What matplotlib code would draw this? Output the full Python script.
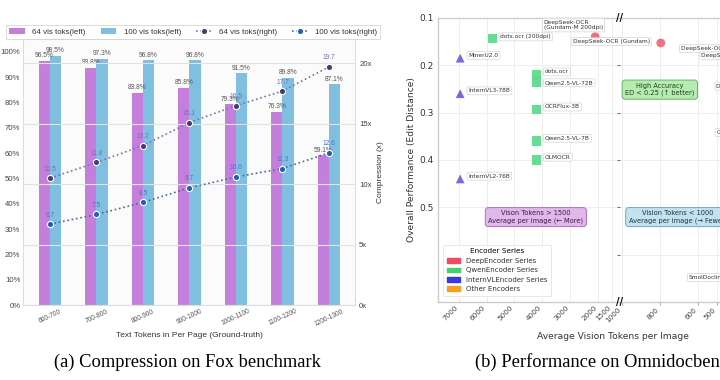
import matplotlib
matplotlib.use("Agg")
import matplotlib.pyplot as plt
import numpy as np
from matplotlib.patches import Patch
from matplotlib.lines import Line2D

# ---------------- data: (a) Fox benchmark ----------------
categories = ['600-700', '700-800', '800-900', '900-1000', '1000-1100', '1100-1200', '1200-1300']
prec_64 = [96.5, 93.8, 83.8, 85.8, 79.3, 76.3, 59.1]
prec_100 = [98.5, 97.3, 96.8, 96.8, 91.5, 89.8, 87.1]
comp_64 = [10.5, 11.8, 13.2, 15.1, 16.5, 17.7, 19.7]
comp_100 = [6.7, 7.5, 8.5, 9.7, 10.6, 11.3, 12.6]
left_yticks = [0, 10, 20, 30, 40, 50, 60, 70, 80, 90, 100]
right_yticks = [0, 5, 10, 15, 20]

# ---------------- data: (b) Omnidocbench ----------------
models = ['dots.ocr (200dpi)', 'DeepSeek-OCR\n(Gundam-M 200dpi)', 'DeepSeek-OCR (Gundam)',
          'MinerU2.0', 'InternVL3-78B', 'InternVL2-76B',
          'dots.ocr', 'Qwen2.5-VL-72B', 'OCRFlux-3B', 'Qwen2.5-VL-7B', 'OLMOCR',
          'DeepSeek-OCR (Large)', 'DeepSeek-OCR (Base)', 'DeepSeek-OCR (Small)',
          'GOT-OCR2.0', 'SmolDocling']
vision_tokens = [5800, 2100, 795,
                 6950, 6950, 6950,
                 4200, 4200, 4200, 4200, 4200,
                 270, 174, 84,
                 250, 395]
edit_distance = [0.143, 0.14, 0.153,
                 0.185, 0.26, 0.44,
                 0.22, 0.237, 0.294, 0.36, 0.40,
                 0.168, 0.183, 0.247,
                 0.345, 0.651]
encoder = ['Qwen', 'Deep', 'Deep',
           'Intern', 'Intern', 'Intern',
           'Qwen', 'Qwen', 'Qwen', 'Qwen', 'Qwen',
           'Deep', 'Deep', 'Deep',
           'Other', 'Other']
series_names = ['DeepEncoder Series', 'QwenEncoder Series', 'InternVLEncoder Series', 'Other Encoders']
left_xticks = [7000, 6000, 5000, 4000, 3000, 2000, 1500]
right_xticks = [1000, 800, 600, 500, 400, 300, 200, 100]
ed_ticks = [0.1, 0.2, 0.3, 0.4, 0.5]

# ---------------- styles ----------------
c64 = '#c47fdc'
c100 = '#80bfdf'
m64 = '#4b3a70'
m100 = '#1f5fb8'
sans_a = 'Liberation Sans'

fig = plt.figure(figsize=(7.2, 3.8), dpi=100)

# ======== (a) ========
ax = fig.add_axes([0.032, 0.197, 0.461, 0.700])
ax.set_facecolor('#fbfbfb')
x = np.arange(len(categories))
w = 0.24
b1 = ax.bar(x - w / 2, prec_64, w, color=c64, zorder=2, label='64 vis toks(left)')
b2 = ax.bar(x + w / 2, prec_100, w, color=c100, zorder=2, label='100 vis toks(left)')
for rect, v in zip(b1, prec_64):
    ax.annotate(f'{v}%', (rect.get_x() + rect.get_width() / 2, v), xytext=(0, 1),
                textcoords='offset points', ha='center', va='bottom', fontsize=4.8,
                color='#555555', family=sans_a, zorder=5)
for rect, v in zip(b2, prec_100):
    ax.annotate(f'{v}%', (rect.get_x() + rect.get_width() / 2, v), xytext=(0, 1),
                textcoords='offset points', ha='center', va='bottom', fontsize=4.8,
                color='#555555', family=sans_a, zorder=5)
ax.set_ylim(0, 105)
ax.set_xlim(-0.58, 6.56)
ax.set_yticks(left_yticks)
ax.set_yticklabels([f'{t}%' for t in left_yticks], fontsize=5.6, color='#444444', family=sans_a)
ax.set_xticks(x)
ax.set_xticklabels(categories, rotation=25, fontsize=4.8, color='#555555', family=sans_a)
ax.tick_params(length=0, pad=2)
ax.set_xlabel('Text Tokens in Per Page (Ground-truth)', fontsize=6, color='#333333',
              family=sans_a, labelpad=3)
for s in ax.spines.values():
    s.set_color('#dddddd')
    s.set_linewidth(0.8)

ax2 = ax.twinx()
ax2.set_ylim(0, 22)
ax2.set_yticks(right_yticks)
ax2.set_yticklabels([f'{t}x' for t in right_yticks], fontsize=5.6, color='#444444', family=sans_a)
ax2.tick_params(length=0, pad=3)
ax2.yaxis.grid(True, color='#e2e2e2', linewidth=0.8, zorder=0)
ax2.set_axisbelow(True)
for s in ax2.spines.values():
    s.set_visible(False)
ax2.set_ylabel('Compression (x)', fontsize=6, color='#333333', family=sans_a, labelpad=4)
l1, = ax2.plot(x, comp_64, linestyle=':', color='#7a70aa', linewidth=1.2, marker='o',
               markersize=4.5, markerfacecolor=m64, markeredgecolor='white',
               markeredgewidth=0.8, zorder=4, label='64 vis toks(right)')
l2, = ax2.plot(x, comp_100, linestyle=':', color='#4a6a98', linewidth=1.2, marker='o',
               markersize=4.5, markerfacecolor=m100, markeredgecolor='white',
               markeredgewidth=0.8, zorder=4, label='100 vis toks(right)')
for xi, v in zip(x, comp_64):
    ax2.annotate(f'{v}', (xi, v), xytext=(0, 4), textcoords='offset points', ha='center',
                 va='bottom', fontsize=4.8, color='#7a6cc0', family=sans_a, zorder=5)
for xi, v in zip(x, comp_100):
    ax2.annotate(f'{v}', (xi, v), xytext=(0, 4), textcoords='offset points', ha='center',
                 va='bottom', fontsize=4.8, color='#4876d0', family=sans_a, zorder=5)

leg = fig.legend(handles=[b1, b2, l1, l2], loc='upper left', bbox_to_anchor=(0.003, 0.945),
                 ncol=4, frameon=True, handlelength=2.0, handletextpad=0.9,
                 columnspacing=1.9, borderpad=0.4, prop={'family': sans_a, 'size': 5.7})
leg.get_frame().set_edgecolor('#cccccc')
leg.get_frame().set_linewidth(0.6)
leg.get_frame().set_boxstyle('square', pad=0)
for t in leg.get_texts():
    t.set_color('#333333')

fig.text(0.261, 0.047, '(a) Compression on Fox benchmark', ha='center', va='center',
         fontsize=13.3, family='Liberation Serif', color='black')

# ======== (b) ========
colors = {'Deep': '#ef4a60', 'Qwen': '#3dd46c', 'Intern': '#3a3ad8', 'Other': '#f5a020'}
mcolors = {'Deep': '#f2576c', 'Qwen': '#4cd882', 'Intern': '#5a52e0', 'Other': '#f5a020'}
markers = {'Deep': 'o', 'Qwen': 's', 'Intern': '^', 'Other': 'D'}
sizes = {'Deep': 40, 'Qwen': 45, 'Intern': 40, 'Other': 35}

bL = fig.add_axes([0.608, 0.205, 0.253, 0.748])
bR = fig.add_axes([0.861, 0.205, 0.25, 0.748])
bL.set_xlim(7755, 1209)
bR.set_xlim(1010, 63)
for a in (bL, bR):
    a.set_ylim(0.70, 0.1)
    a.grid(True, color='#ebebeb', linewidth=0.6)
    a.set_axisbelow(True)
    a.set_facecolor('white')
    for s in a.spines.values():
        s.set_color('#cccccc')
        s.set_linewidth(1.0)
bL.spines['right'].set_visible(False)
bR.spines['left'].set_visible(False)
bL.set_yticks(ed_ticks)
bL.set_yticklabels([f'{t}' for t in ed_ticks], fontsize=6.5, color='#333333')
bL.tick_params(axis='y', length=0, pad=3)
bR.set_yticks([0.2, 0.3, 0.4, 0.5, 0.6])
bR.tick_params(axis='y', length=2, width=0.8, color='#777777', labelleft=False, direction='out')
bL.set_xticks(left_xticks)
bL.set_xticklabels([str(t) for t in left_xticks], rotation=45, ha='right', fontsize=5.2,
                   color='#444444')
bR.set_xticks(right_xticks)
bR.set_xticklabels([str(t) for t in right_xticks], rotation=45, ha='right', fontsize=5.2,
                   color='#444444')
bL.tick_params(axis='x', length=0, pad=2)
bR.tick_params(axis='x', length=2, width=0.6, color='#999999', pad=1)
bL.set_ylabel('Overall Performance (Edit Distance)', fontsize=6.6, color='#333333', labelpad=2)
bL.set_xlabel('Average Vision Tokens per Image', fontsize=6.6, color='#333333')
bL.xaxis.set_label_coords(0.96, -0.105)

label_style = {
    'dots.ocr (200dpi)': ((6, 1), 'left'),
    'DeepSeek-OCR\n(Gundam-M 200dpi)': ((-37, 8.5), 'left'),
    'DeepSeek-OCR (Gundam)': ((-8, 1), 'right'),
    'MinerU2.0': ((6, 2), 'left'),
    'InternVL3-78B': ((6, 2), 'left'),
    'InternVL2-76B': ((6, 2), 'left'),
    'dots.ocr': ((6, 2), 'left'),
    'Qwen2.5-VL-72B': ((6, 0), 'left'),
    'OCRFlux-3B': ((6, 2), 'left'),
    'Qwen2.5-VL-7B': ((6, 2), 'left'),
    'OLMOCR': ((6, 2), 'left'),
}
for name, t, e, enc in zip(models, vision_tokens, edit_distance, encoder):
    a = bL if t >= 1209 else bR
    a.scatter([t], [e], s=sizes[enc], marker=markers[enc], color=mcolors[enc], alpha=0.85,
              edgecolor='none', zorder=3)
    off, ha = label_style.get(name, ((-8, 1), 'right'))
    a.annotate(name, (t, e), xytext=off, textcoords='offset points', ha=ha, va='center',
               fontsize=4.2, color='#333333', zorder=6, annotation_clip=False,
               bbox=dict(boxstyle='round,pad=0.25', fc='white', ec='#cccccc', lw=0.5, alpha=0.85))

bR.text(800, 0.251, 'High Accuracy\nED < 0.25 (↑ better)', ha='center', va='center',
        fontsize=4.8, color='#1f3f1f', zorder=7, clip_on=False,
        bbox=dict(boxstyle='round,pad=0.45', fc='#b7ebb0', ec='#5cb85c', lw=0.7))
bL.text(4230, 0.52, 'Vison Tokens > 1500\nAverage per image (← More)', ha='center', va='center',
        fontsize=4.8, color='#3a1f40', zorder=7, clip_on=False,
        bbox=dict(boxstyle='round,pad=0.45', fc='#e2b7ea', ec='#b070c0', lw=0.7))
bR.text(705, 0.52, 'Vision Tokens < 1000\nAverage per image (→ Fewer)', ha='center', va='center',
        fontsize=4.8, color='#1f3040', zorder=7, clip_on=False,
        bbox=dict(boxstyle='round,pad=0.45', fc='#c3e2ef', ec='#6aa8c8', lw=0.7))

handles = [Patch(color=colors[k]) for k in ['Deep', 'Qwen', 'Intern', 'Other']]
lg = bL.legend(handles, series_names, title='Encoder Series', loc='lower left',
               bbox_to_anchor=(0.01, 0.01), fontsize=5.0, title_fontsize=5.2,
               frameon=True, handlelength=2.0, handleheight=0.7, borderpad=0.5,
               labelspacing=0.5)
lg.get_frame().set_edgecolor('#dddddd')
lg.get_frame().set_linewidth(0.6)
for tt in lg.get_texts():
    tt.set_color('#333333')

# axis break marks
for yy in (1.0, 0.0):
    bR.text(0.0, yy, '//', transform=bR.transAxes, ha='center', va='center', fontsize=7,
            fontweight='bold', color='black', zorder=8, clip_on=False)

fig.text(0.66, 0.047, '(b) Performance on Omnidocbench', ha='left', va='center',
         fontsize=13.3, family='Liberation Serif', color='black')

fig.savefig('out.png', dpi=100)
